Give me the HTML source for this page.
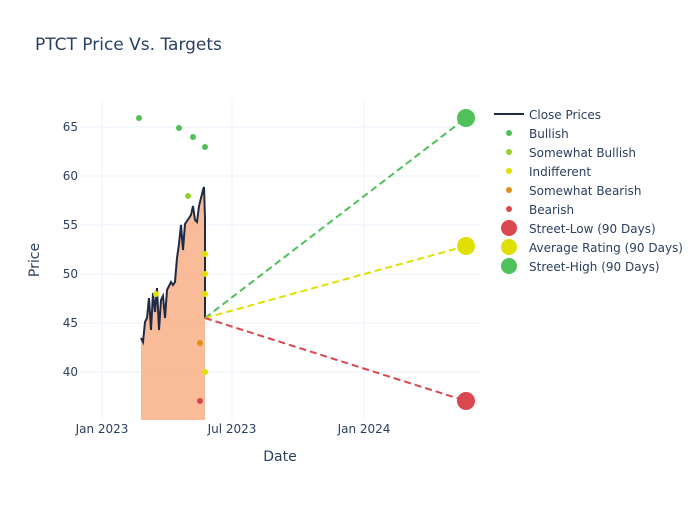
<!DOCTYPE html><html><head><style>body{margin:0;background:#fff}svg text{font-family:"DejaVu Sans","Liberation Sans",sans-serif;fill:#2a3f5f}</style></head><body>
<svg width="700" height="500" xmlns="http://www.w3.org/2000/svg">
<rect width="700" height="500" fill="#fff"/>
<text x="35" y="50" font-size="17">PTCT Price Vs. Targets</text>
<g stroke="#ebf0f8" stroke-width="1">
<line x1="102" y1="100" x2="102" y2="420"/><line x1="232" y1="100" x2="232" y2="420"/><line x1="364" y1="100" x2="364" y2="420"/>
<line x1="80" y1="127" x2="480" y2="127"/><line x1="80" y1="176" x2="480" y2="176"/><line x1="80" y1="225" x2="480" y2="225"/><line x1="80" y1="274" x2="480" y2="274"/><line x1="80" y1="323" x2="480" y2="323"/><line x1="80" y1="372" x2="480" y2="372"/>
</g>
<g font-size="12" text-anchor="end">
<text x="78" y="131">65</text><text x="78" y="180">60</text><text x="78" y="229">55</text><text x="78" y="278">50</text><text x="78" y="327">45</text><text x="78" y="376">40</text>
</g>
<g font-size="12" text-anchor="middle">
<text x="102" y="433">Jan 2023</text><text x="232" y="433">Jul 2023</text><text x="364" y="433">Jan 2024</text>
</g>
<text x="280" y="461" font-size="14" text-anchor="middle">Date</text>
<text x="39" y="260" font-size="14" text-anchor="middle" transform="rotate(-90 39 260)">Price</text>
<path d="M141,420 L141,338 143,342 145,322 147,318 149,298 151,330 153,293 155,312 157,288 159,330 161,300 163,296 165,318 167,290 169,286 171,282 173,285 175,282 177,258 179,244 181,225 183,250 185,224 187,221 189,218 191,215 193,206 195,220 197,222 199,206 201,198 203,190 204,187 205,218 205,318 205,420 Z" fill="#f9b48e" opacity="0.9"/>
<polyline points="141,338 143,342 145,322 147,318 149,298 151,330 153,293 155,312 157,288 159,330 161,300 163,296 165,318 167,290 169,286 171,282 173,285 175,282 177,258 179,244 181,225 183,250 185,224 187,221 189,218 191,215 193,206 195,220 197,222 199,206 201,198 203,190 204,187 205,218 205,318" fill="none" stroke="#1f2a44" stroke-width="2"/>
<g stroke-width="2" stroke-dasharray="7,4" fill="none">
<line x1="205" y1="318" x2="466" y2="118" stroke="#50c05a"/>
<line x1="205" y1="318" x2="466" y2="246" stroke="#e0e000"/>
<line x1="205" y1="318" x2="466" y2="401" stroke="#d9474f"/>
</g>
<g fill="#50c05a"><circle cx="139" cy="118" r="3"/><circle cx="179" cy="128" r="3"/><circle cx="193" cy="137" r="3"/><circle cx="205" cy="147" r="3"/></g>
<g fill="#9acd32"><circle cx="188" cy="196" r="3"/></g>
<g fill="#e0e000"><circle cx="156" cy="294" r="3"/><circle cx="205" cy="254" r="3"/><circle cx="205" cy="274" r="3"/><circle cx="205" cy="294" r="3"/><circle cx="205" cy="372" r="3"/></g>
<circle cx="200" cy="343" r="3" fill="#e0901a"/>
<circle cx="200" cy="401" r="3" fill="#d9474f"/>
<circle cx="466" cy="118" r="9" fill="#50c05a"/>
<circle cx="466" cy="246" r="9" fill="#e0e000"/>
<circle cx="466" cy="401" r="9" fill="#d9474f"/>
<line x1="494" y1="114" x2="524" y2="114" stroke="#1f2a44" stroke-width="2"/>
<circle cx="509" cy="133" r="3" fill="#50c05a"/>
<circle cx="509" cy="152" r="3" fill="#9acd32"/>
<circle cx="509" cy="171" r="3" fill="#e0e000"/>
<circle cx="509" cy="190" r="3" fill="#e0901a"/>
<circle cx="509" cy="209" r="3" fill="#d9474f"/>
<circle cx="509" cy="228" r="8" fill="#d9474f"/>
<circle cx="509" cy="247" r="8" fill="#e0e000"/>
<circle cx="509" cy="266" r="8" fill="#50c05a"/>
<g font-size="12">
<text x="529" y="119">Close Prices</text><text x="529" y="138">Bullish</text><text x="529" y="157">Somewhat Bullish</text><text x="529" y="176">Indifferent</text><text x="529" y="195">Somewhat Bearish</text><text x="529" y="214">Bearish</text><text x="529" y="233">Street-Low (90 Days)</text><text x="529" y="252">Average Rating (90 Days)</text><text x="529" y="271">Street-High (90 Days)</text>
</g>
</svg></body></html>
